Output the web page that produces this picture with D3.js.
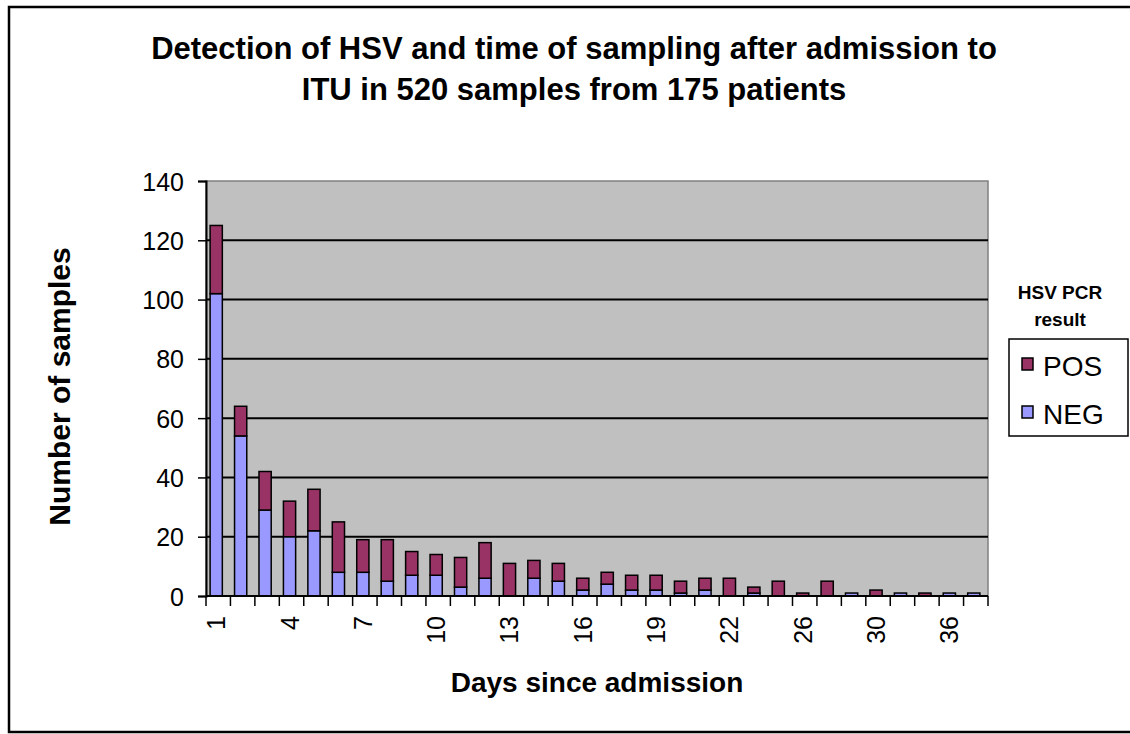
<!DOCTYPE html>
<html>
<head>
<meta charset="utf-8">
<script src="https://cdn.jsdelivr.net/npm/d3@7"></script>
<style>
  body { margin: 0; background: #fff; }
  text { font-family: 'Liberation Sans', Arial, sans-serif; fill: #000; }
</style>
</head>
<body>
<div id="chart"></div>
<script>
// Days since admission (only days with samples)
const days = [1, 2, 3, 4, 5, 6, 7, 8, 9, 10, 11, 12, 13, 14, 15, 16, 17, 18, 19, 20, 21, 22,
  23, 25, 26, 27, 28, 30, 32, 34, 36, 39]
const neg = [102, 54, 29, 20, 22, 8, 8, 5, 7, 7, 3, 6, 0, 6, 5, 2, 4, 2, 2, 1, 2, 0,
  1, 0, 0, 0, 1, 0, 1, 0, 1, 1]
const pos = [23, 10, 13, 12, 14, 17, 11, 14, 8, 7, 10, 12, 11, 6, 6, 4, 4, 5, 5, 4, 4, 6,
  2, 5, 1, 5, 0, 2, 0, 1, 0, 0]
const yTicks = [0, 20, 40, 60, 80, 100, 120, 140]
const seriesNames = ['NEG', 'POS']
const colors = { NEG: '#9999ff', POS: '#993366' }

const width = 1130
const height = 734
const plot = { left: 206, right: 988, top: 181, bottom: 596 }

const svg = d3.select('#chart')
  .append('svg')
  .attr('width', width)
  .attr('height', height)

// Outer frame
svg.append('rect')
  .attr('x', 9).attr('y', 7)
  .attr('width', 1130).attr('height', 725)
  .attr('fill', 'none')
  .attr('stroke', '#000')
  .attr('stroke-width', 2.5)

// Scales
const x = d3.scaleBand()
  .domain(days.map(String))
  .range([plot.left, plot.right])
  .paddingInner(0.5)
  .paddingOuter(0.25)
const xEdge = d3.scaleLinear().domain([0, days.length]).range([plot.left, plot.right])
const y = d3.scaleLinear().domain([0, 140]).range([plot.bottom, plot.top])

// Plot area background
svg.append('rect')
  .attr('x', plot.left).attr('y', plot.top)
  .attr('width', plot.right - plot.left)
  .attr('height', plot.bottom - plot.top)
  .attr('fill', '#c0c0c0')
  .attr('stroke', '#808080')
  .attr('stroke-width', 1.5)

// Gridlines
svg.append('g')
  .selectAll('line')
  .data(yTicks.filter(d => d > 0 && d < 140))
  .join('line')
  .attr('x1', plot.left).attr('x2', plot.right)
  .attr('y1', d => y(d)).attr('y2', d => y(d))
  .attr('stroke', '#000')
  .attr('stroke-width', 2)

// Stacked bars
const table = days.map((d, i) => ({ day: String(d), NEG: neg[i], POS: pos[i] }))
const stacked = d3.stack().keys(seriesNames)(table)

svg.append('g')
  .selectAll('g')
  .data(stacked)
  .join('g')
  .attr('fill', s => colors[s.key])
  .selectAll('rect')
  .data(s => s.filter(d => d[1] - d[0] > 0))
  .join('rect')
  .attr('x', d => x(d.data.day) - 2)
  .attr('width', x.bandwidth())
  .attr('y', d => y(d[1]))
  .attr('height', d => y(d[0]) - y(d[1]))
  .attr('stroke', '#000')
  .attr('stroke-width', 1.5)

// Left axis
const yAxis = svg.append('g')
  .attr('transform', `translate(${plot.left}, 0)`)
  .call(d3.axisLeft(y).tickValues(yTicks).tickSize(8).tickPadding(14))
yAxis.select('.domain').attr('stroke-width', 2)
yAxis.selectAll('.tick line').attr('stroke-width', 1.5)
yAxis.selectAll('.tick text')
  .style('font-size', '25px')
  .attr('dy', '0.36em')

// Bottom axis: line and ticks at category edges
const xAxis = svg.append('g')
svg.append('line')
  .attr('x1', plot.left).attr('x2', plot.right)
  .attr('y1', plot.bottom).attr('y2', plot.bottom)
  .attr('stroke', '#000').attr('stroke-width', 2)
xAxis.selectAll('line')
  .data(d3.range(days.length + 1))
  .join('line')
  .attr('x1', d => xEdge(d)).attr('x2', d => xEdge(d))
  .attr('y1', plot.bottom).attr('y2', plot.bottom + 10)
  .attr('stroke', '#000').attr('stroke-width', 1.5)

// Rotated tick labels, every third day
svg.append('g')
  .selectAll('text')
  .data(days.filter((d, i) => i % 3 === 0))
  .join('text')
  .attr('transform', d => `translate(${x(String(d)) + x.bandwidth() / 2 + 7}, 616) rotate(-90)`)
  .attr('text-anchor', 'end')
  .style('font-size', '25px')
  .text(d => d)

// Titles
const title = svg.append('text')
  .attr('text-anchor', 'middle')
  .style('font-size', '31px')
  .style('font-weight', 'bold')
title.append('tspan').attr('x', 574).attr('y', 59)
  .text('Detection of HSV and time of sampling after admission to')
title.append('tspan').attr('x', 574).attr('y', 100)
  .text('ITU in 520 samples from 175 patients')

svg.append('text')
  .attr('text-anchor', 'middle')
  .attr('x', (plot.left + plot.right) / 2)
  .attr('y', 692)
  .style('font-size', '28px')
  .style('font-weight', 'bold')
  .text('Days since admission')

svg.append('text')
  .attr('text-anchor', 'middle')
  .attr('transform', `translate(70, ${(plot.top + plot.bottom) / 2 - 2}) rotate(-90)`)
  .style('font-size', '30px')
  .style('font-weight', 'bold')
  .text('Number of samples')

// Legend
const legend = svg.append('g')
legend.append('text')
  .attr('text-anchor', 'middle')
  .attr('x', 1060).attr('y', 299)
  .style('font-size', '19px').style('font-weight', 'bold')
  .text('HSV PCR')
legend.append('text')
  .attr('text-anchor', 'middle')
  .attr('x', 1060).attr('y', 326)
  .style('font-size', '19px').style('font-weight', 'bold')
  .text('result')
legend.append('rect')
  .attr('x', 1009).attr('y', 339)
  .attr('width', 119).attr('height', 97)
  .attr('fill', '#fff').attr('stroke', '#000').attr('stroke-width', 1.5)

const legendItems = ['POS', 'NEG']
legend.selectAll('g.item')
  .data(legendItems)
  .join('g')
  .attr('class', 'item')
  .attr('transform', (d, i) => `translate(1022, ${358 + i * 48})`)
  .call(g => {
    g.append('rect')
      .attr('width', 11).attr('height', 12)
      .attr('fill', d => colors[d])
      .attr('stroke', '#000').attr('stroke-width', 1.5)
    g.append('text')
      .attr('x', 21).attr('y', 18)
      .style('font-size', '28px')
      .text(d => d)
  })
</script>
</body>
</html>
